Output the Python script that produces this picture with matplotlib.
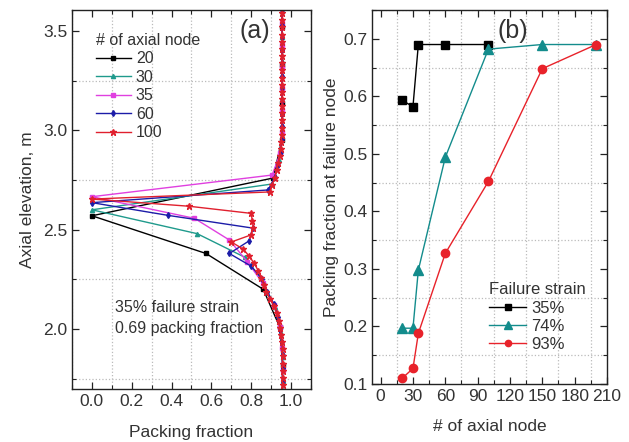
import matplotlib
matplotlib.use("Agg")
import matplotlib.pyplot as plt
from matplotlib.ticker import MultipleLocator

plt.rcParams['font.family'] = ['Liberation Sans', 'DejaVu Sans']

# ---------------- Panel (a) data ----------------
z20 = [3.71, 3.52, 3.33, 3.14, 2.95, 2.76, 2.57, 2.38, 2.20, 2.01, 1.82, 1.63]
p20 = [0.955, 0.955, 0.955, 0.955, 0.953, 0.91, 0.0, 0.573, 0.86, 0.943, 0.957, 0.957]

z30 = [3.72, 3.60, 3.47, 3.35, 3.22, 3.10, 2.97, 2.85, 2.73, 2.60, 2.48, 2.36,
       2.23, 2.11, 1.98, 1.86, 1.74, 1.61]
p30 = [0.955, 0.955, 0.955, 0.955, 0.955, 0.955, 0.953, 0.94, 0.905, 0.0, 0.528, 0.77,
       0.862, 0.92, 0.948, 0.957, 0.957, 0.957]

z35 = [3.647, 3.538, 3.429, 3.320, 3.211, 3.102, 2.993, 2.884, 2.775, 2.666, 2.557,
       2.448, 2.339, 2.230, 2.121, 2.012, 1.903, 1.794, 1.685]
p35 = [0.955, 0.955, 0.955, 0.955, 0.955, 0.955, 0.953, 0.945, 0.905, 0.0, 0.515,
       0.69, 0.78, 0.858, 0.915, 0.944, 0.956, 0.957, 0.957]

z60 = [3.660, 3.596, 3.532, 3.468, 3.404, 3.340, 3.276, 3.212, 3.148, 3.084, 3.020,
       2.956, 2.892, 2.828, 2.764, 2.700, 2.636, 2.572, 2.508, 2.444, 2.380, 2.316,
       2.252, 2.188, 2.124, 2.060, 1.996, 1.932, 1.868, 1.804, 1.740, 1.676]
p60 = [0.955, 0.955, 0.955, 0.955, 0.955, 0.955, 0.955, 0.955, 0.955, 0.955, 0.955,
       0.953, 0.947, 0.935, 0.918, 0.885, 0.0, 0.382, 0.807, 0.79, 0.69, 0.80,
       0.855, 0.88, 0.915, 0.935, 0.946, 0.955, 0.957, 0.957, 0.957, 0.957]

z100 = [3.626, 3.590, 3.554, 3.518, 3.482, 3.446, 3.410, 3.374, 3.338, 3.302, 3.266,
        3.230, 3.194, 3.158, 3.122, 3.086, 3.050, 3.014, 2.978, 2.942, 2.906, 2.870,
        2.834, 2.798, 2.762, 2.726, 2.690, 2.654, 2.618, 2.582, 2.546, 2.510, 2.474,
        2.438, 2.402, 2.366, 2.330, 2.294, 2.258, 2.222, 2.186, 2.150, 2.114, 2.078,
        2.042, 2.006, 1.970, 1.934, 1.898, 1.862, 1.826, 1.790, 1.754, 1.718, 1.682]
p100 = [0.955, 0.955, 0.955, 0.955, 0.955, 0.955, 0.955, 0.955, 0.955, 0.955, 0.955,
        0.955, 0.955, 0.955, 0.955, 0.955, 0.955, 0.954, 0.953, 0.951, 0.948, 0.943,
        0.936, 0.928, 0.918, 0.905, 0.895, 0.0, 0.487, 0.80, 0.805, 0.81, 0.80,
        0.70, 0.76, 0.79, 0.815, 0.835, 0.85, 0.862, 0.875, 0.895, 0.915, 0.928,
        0.937, 0.944, 0.951, 0.955, 0.957, 0.957, 0.957, 0.957, 0.957, 0.957, 0.957]

node_labels = ['20', '30', '35', '60', '100']

# ---------------- Panel (b) data ----------------
nodes_35 = [20, 30, 35, 60, 100]
pf_35 = [0.593, 0.582, 0.690, 0.690, 0.690]
nodes_74 = [20, 30, 35, 60, 100, 150, 200]
pf_74 = [0.197, 0.197, 0.298, 0.494, 0.682, 0.690, 0.690]
nodes_93 = [20, 30, 35, 60, 100, 150, 200]
pf_93 = [0.110, 0.127, 0.188, 0.327, 0.452, 0.648, 0.690]
strain_labels = ['35%', '74%', '93%']

TXT = '#333333'

fig = plt.figure(figsize=(6.29, 4.42), dpi=100)
axa = fig.add_axes([0.1145, 0.12, 0.3799, 0.8574])
axb = fig.add_axes([0.5914, 0.1312, 0.3736, 0.8462])

def style(ax):
    for s in ax.spines.values():
        s.set_color('#222222')
        s.set_linewidth(1.0)
    ax.tick_params(which='both', direction='in', top=True, right=True,
                   colors='#222222', labelcolor=TXT, labelsize=12.5)
    ax.tick_params(which='major', length=5, width=0.9)
    ax.tick_params(which='minor', length=3, width=0.8)
    ax.grid(which='minor', linestyle=':', color='#bbbbbb', linewidth=0.9)
    ax.grid(which='major', visible=False)
    ax.set_axisbelow(True)

def style_legend(leg):
    leg._legend_box.align = 'left'
    leg.get_title().set_color(TXT)
    for t in leg.get_texts():
        t.set_color(TXT)

# ---- panel a ----
series_a = [
    (p20, z20, 'black', 's', 2.5),
    (p30, z30, '#1f9a8c', '^', 3.0),
    (p35, z35, '#e040e0', 's', 2.8),
    (p60, z60, '#1c1ca8', 'd', 3.0),
    (p100, z100, '#e0202e', '*', 4.5),
]
for (x, y, c, m, ms), lab in zip(series_a, node_labels):
    axa.plot(x, y, color=c, marker=m, markersize=ms, linewidth=1.0, label=lab)
axa.set_xlim(-0.1, 1.1)
axa.set_ylim(1.698, 3.606)
axa.xaxis.set_major_locator(MultipleLocator(0.2))
axa.xaxis.set_minor_locator(MultipleLocator(0.1))
axa.yaxis.set_major_locator(MultipleLocator(0.5))
axa.yaxis.set_minor_locator(MultipleLocator(0.25))
axa.xaxis.set_major_formatter(matplotlib.ticker.FormatStrFormatter('%.1f'))
axa.yaxis.set_major_formatter(matplotlib.ticker.FormatStrFormatter('%.1f'))
style(axa)
axa.set_xlabel('Packing fraction', fontsize=12.5, color=TXT, labelpad=12)
axa.set_ylabel('Axial elevation, m', fontsize=12.5, color=TXT, labelpad=6)
leg = axa.legend(title='# of axial node', loc='upper left', bbox_to_anchor=(0.1, 0.94),
                 frameon=False, fontsize=11.5, title_fontsize=11.5, handlelength=2.2,
                 handletextpad=0.3, labelspacing=0.22, borderaxespad=0.0, borderpad=0.0)
style_legend(leg)
axa.text(0.765, 0.945, '(a)', transform=axa.transAxes, fontsize=18, color=TXT,
         ha='center', va='center')
axa.text(0.178, 0.215, '35% failure strain', transform=axa.transAxes, fontsize=11.5,
         color=TXT, ha='left', va='center')
axa.text(0.178, 0.16, '0.69 packing fraction', transform=axa.transAxes, fontsize=11.5,
         color=TXT, ha='left', va='center')

# ---- panel b ----
axb.plot(nodes_35, pf_35, color='black', marker='s', markersize=6, linewidth=1.0,
         label=strain_labels[0])
axb.plot(nodes_74, pf_74, color='#138c8c', marker='^', markersize=7, linewidth=1.0,
         label=strain_labels[1])
axb.plot(nodes_93, pf_93, color='#e8222a', marker='o', markersize=6, linewidth=1.0,
         label=strain_labels[2])
axb.set_xlim(-8, 210)
axb.set_ylim(0.1, 0.75)
axb.xaxis.set_major_locator(MultipleLocator(30))
axb.xaxis.set_minor_locator(MultipleLocator(15))
axb.yaxis.set_major_locator(MultipleLocator(0.1))
axb.yaxis.set_minor_locator(MultipleLocator(0.05))
axb.yaxis.set_major_formatter(matplotlib.ticker.FormatStrFormatter('%.1f'))
style(axb)
axb.set_xlabel('# of axial node', fontsize=12.5, color=TXT, labelpad=11)
axb.set_ylabel('Packing fraction at failure node', fontsize=12.5, color=TXT, labelpad=3)
legb = axb.legend(title='Failure strain', loc='lower left', bbox_to_anchor=(0.5, 0.085),
                  frameon=False, fontsize=12, title_fontsize=12, handlelength=2.2,
                  handletextpad=0.3, labelspacing=0.2, borderaxespad=0.0, borderpad=0.0,
                  markerscale=0.75)
style_legend(legb)
axb.text(0.6, 0.945, '(b)', transform=axb.transAxes, fontsize=18, color=TXT,
         ha='center', va='center')

fig.savefig('out.png', dpi=100)
